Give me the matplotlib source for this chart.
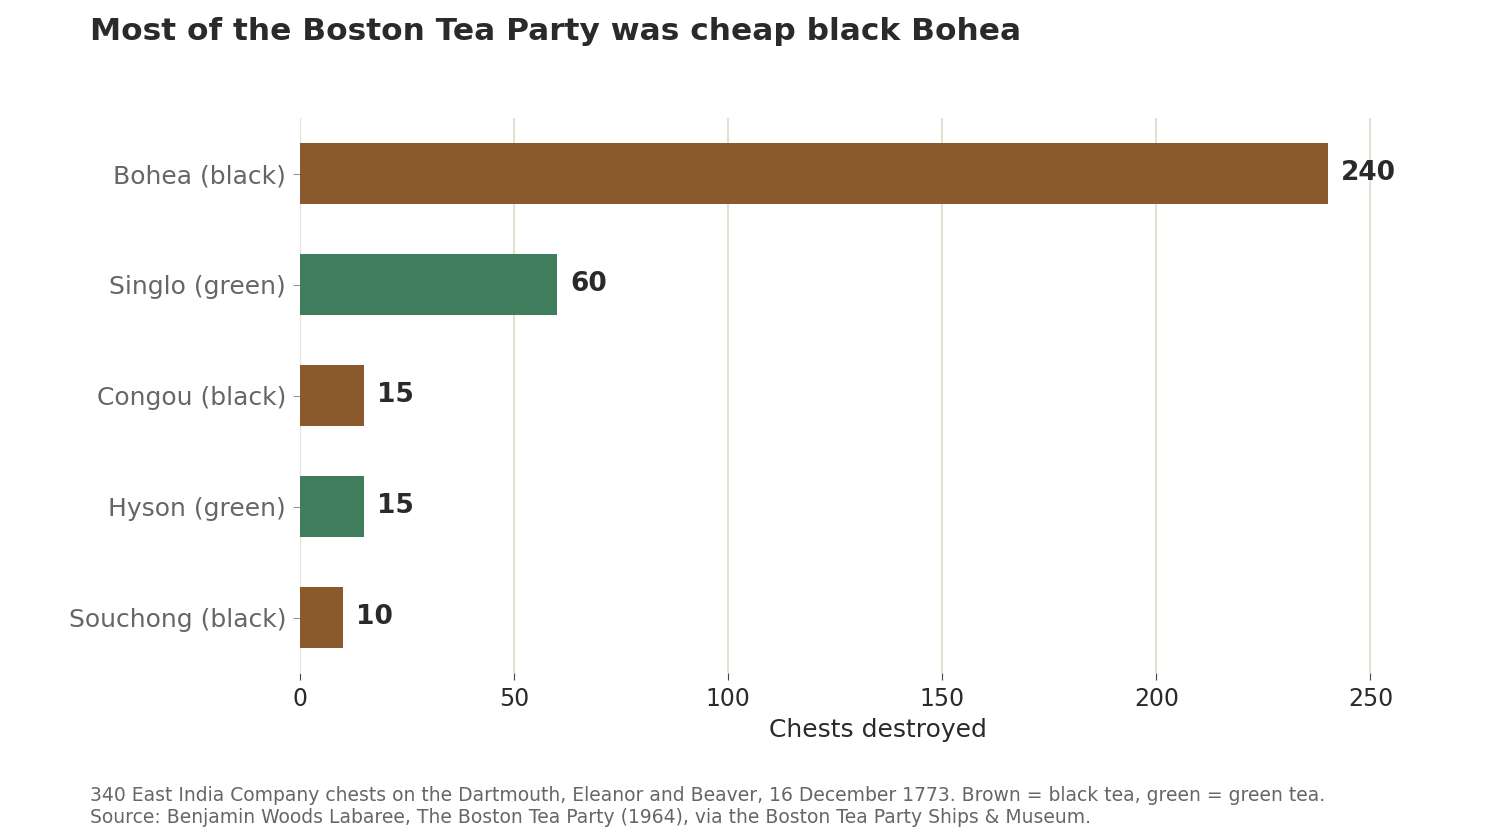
import matplotlib
matplotlib.use("Agg")
import matplotlib.pyplot as plt

categories = ["Bohea (black)", "Singlo (green)", "Congou (black)", "Hyson (green)", "Souchong (black)"]
chests = [240, 60, 15, 15, 10]
tea_type = ["black", "green", "black", "green", "black"]

COLORS = {"black": "#8A5A2C", "green": "#3F7D5C"}

fig = plt.figure(figsize=(15, 8.4), dpi=100)
ax = fig.add_axes([0.2, 0.1988, 0.7707, 0.6607])

ypos = list(range(len(categories)))
ax.barh(ypos, chests, height=0.55, color=[COLORS[t] for t in tea_type], zorder=3)
for y, v in zip(ypos, chests):
    ax.annotate(str(v), (v, y), xytext=(9.5, 0.5), textcoords="offset points",
                ha="left", va="center", fontsize=19, fontweight="bold", color="#2a2a2a")

ax.set_yticks(ypos)
ax.set_yticklabels(categories)
ax.set_ylim(len(categories) - 0.5, -0.5)
ax.set_xlim(0, 270)
ax.set_xticks([0, 50, 100, 150, 200, 250])

ax.grid(True, axis="x", color="#e3e0d3", linewidth=1.5, zorder=0)
for s in ["top", "right", "bottom"]:
    ax.spines[s].set_visible(False)
ax.spines["left"].set_color("#e8e2da")

ax.tick_params(axis="y", labelsize=18, labelcolor="#666666", color="#999999", length=5, pad=5)
ax.tick_params(axis="x", labelsize=17, labelcolor="#2a2a2a", color="#444444", length=5, pad=5)
ax.set_xlabel("Chests destroyed", fontsize=18, color="#2a2a2a", labelpad=5)

fig.text(0.06, 0.963, "Most of the Boston Tea Party was cheap black Bohea",
         fontsize=22.5, fontweight="bold", color="#2a2a2a", va="center")
fig.text(0.06, 0.016,
         "340 East India Company chests on the Dartmouth, Eleanor and Beaver, 16 December 1773. "
         "Brown = black tea, green = green tea.\n"
         "Source: Benjamin Woods Labaree, The Boston Tea Party (1964), via the Boston Tea Party Ships & Museum.",
         fontsize=13.5, color="#666666", va="bottom", linespacing=1.15)

fig.savefig("out.png", dpi=100)
